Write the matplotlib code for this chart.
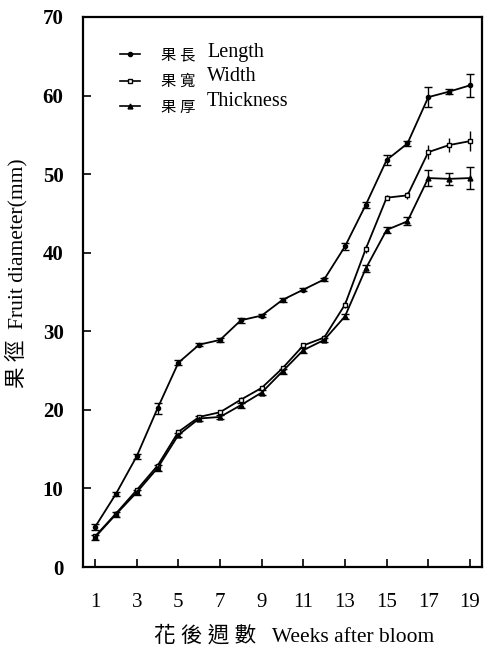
import matplotlib
matplotlib.use("Agg")
import matplotlib.pyplot as plt
from matplotlib.lines import Line2D

weeks = list(range(1, 20))
length = [5.1, 9.3, 14.1, 20.2, 26.0, 28.3, 28.9, 31.4, 32.0, 34.0, 35.3, 36.6, 40.8, 46.1, 51.8, 53.9, 59.8, 60.5, 61.3]
length_err = [0.4, 0.3, 0.3, 0.7, 0.3, 0.2, 0.2, 0.3, 0.2, 0.3, 0.2, 0.2, 0.4, 0.4, 0.65, 0.3, 1.3, 0.3, 1.5]
width = [3.9, 6.8, 9.8, 12.9, 17.2, 19.1, 19.7, 21.3, 22.8, 25.3, 28.2, 29.2, 33.4, 40.5, 47.0, 47.3, 52.8, 53.7, 54.2]
width_err = [0.3, 0.3, 0.3, 0.3, 0.3, 0.3, 0.3, 0.3, 0.3, 0.3, 0.3, 0.3, 0.4, 0.5, 0.3, 0.4, 0.9, 0.85, 1.3]
thick = [3.8, 6.7, 9.5, 12.6, 16.8, 18.9, 19.1, 20.6, 22.2, 24.9, 27.6, 28.9, 31.9, 38.0, 42.9, 44.0, 49.5, 49.4, 49.5]
thick_err = [0.3, 0.3, 0.3, 0.4, 0.3, 0.3, 0.3, 0.3, 0.3, 0.3, 0.3, 0.3, 0.3, 0.5, 0.4, 0.5, 1.0, 0.75, 1.4]
xticks = [1, 3, 5, 7, 9, 11, 13, 15, 17, 19]
yticks = [0, 10, 20, 30, 40, 50, 60, 70]
labels_cjk = ["果 長", "果 寬", "果 厚"]
labels_en = ["Length", "Width", "Thickness"]

fam = ["Liberation Serif", "Noto Sans CJK TC"]
plt.rcParams["font.family"] = fam

fig = plt.figure(figsize=(4.84, 6.51), dpi=100)
ax = fig.add_axes([0.1715, 0.129, 0.8244, 0.8449])

common = dict(color="black", lw=1.3, elinewidth=1.0, capthick=1.0)
ax.errorbar(weeks, length, yerr=length_err, marker="o", ms=3, mfc="black", mec="black", capsize=3, **common)
ax.errorbar(weeks, width, yerr=width_err, marker="s", ms=3.5, mfc="white", mec="black", mew=1.0, capsize=0, **common)
ax.errorbar(weeks, thick, yerr=thick_err, marker="^", ms=3.5, mfc="black", mec="black", capsize=3, **common)

ax.set_xlim(0.42, 19.58)
ax.set_ylim(0, 70)
ax.set_xticks(xticks)
ax.set_yticks(yticks)
ax.tick_params(axis="both", direction="in", length=6, width=1.2, top=False, right=False)
ax.tick_params(axis="x", pad=19, labelsize=15)
ax.tick_params(axis="y", pad=14, labelsize=15)
for t in ax.get_yticklabels():
    t.set_fontweight("bold")
for s in ax.spines.values():
    s.set_linewidth(1.6)

ax.set_xlabel("花 後 週 數   Weeks after bloom", fontsize=15.5, labelpad=10, x=0.528)
ax.set_ylabel("果 徑  Fruit diameter(mm)", fontsize=15.5, labelpad=11, y=0.535)

handles = [
    Line2D([], [], color="black", lw=1.2, marker="o", ms=3, mfc="black"),
    Line2D([], [], color="black", lw=1.2, marker="s", ms=3.5, mfc="white"),
    Line2D([], [], color="black", lw=1.2, marker="^", ms=3.5, mfc="black"),
]
ax.legend(handles, labels_cjk, loc="upper left", bbox_to_anchor=(0.093, 0.942), frameon=False,
          fontsize=11, handlelength=1.3, handletextpad=1.4, labelspacing=0.79, borderpad=0,
          borderaxespad=0)
for lab, yy in zip(labels_en, [0.927, 0.883, 0.839]):
    ax.text(0.311, yy, lab, transform=ax.transAxes, fontsize=14.5, va="baseline", ha="left")

fig.savefig("out.png", dpi=100)
